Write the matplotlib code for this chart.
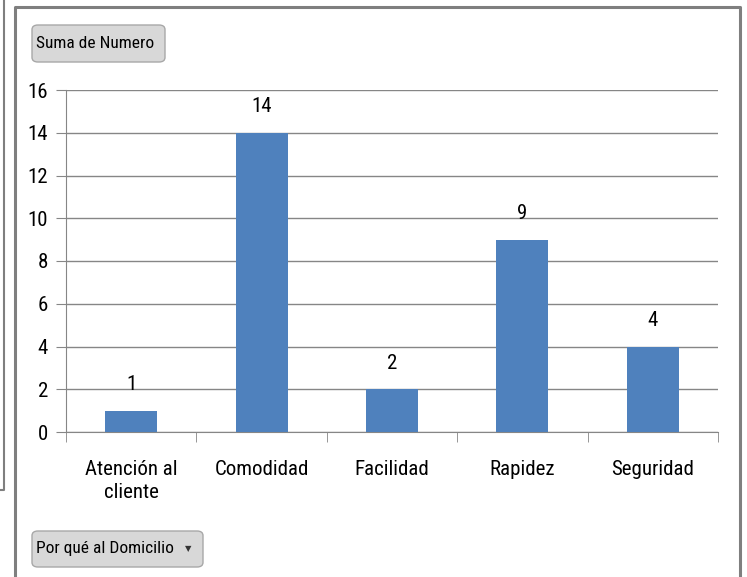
import matplotlib
matplotlib.use("Agg")
import matplotlib.pyplot as plt
from matplotlib.patches import FancyBboxPatch
from matplotlib.lines import Line2D
import matplotlib.font_manager as fm
import os

categories = ["Atención al\ncliente", "Comodidad", "Facilidad", "Rapidez", "Seguridad"]
values = [1, 14, 2, 9, 4]
yticks = [0, 2, 4, 6, 8, 10, 12, 14, 16]
series_button = "Suma de Numero"
axis_button = "Por qué al Domicilio"

# look for a narrow / condensed regular font (Calibri-like look)
cand = []
for f in fm.fontManager.ttflist:
    base = os.path.basename(f.fname).lower()
    if ("narrow" in base or "condensed" in base) and "bold" not in base and "italic" not in base \
            and "oblique" not in base and "light" not in base and "semi" not in base:
        cand.append(f)
order = ["liberationsansnarrow", "robotocondensed", "opensans_condensed", "opensanscondensed", "dejavusanscondensed"]
def rank(f):
    b = os.path.basename(f.fname).lower().replace("-", "").replace(" ", "")
    for i, o in enumerate(order):
        if o in b:
            return i
    return len(order)
cand.sort(key=rank)
if cand:
    FP = lambda size: fm.FontProperties(fname=cand[0].fname, size=size)
else:
    FP = lambda size: fm.FontProperties(family="DejaVu Sans", stretch="condensed", size=size)

W, H = 747, 577
fig = plt.figure(figsize=(W / 100, H / 100), dpi=100)
fig.patch.set_facecolor("white")

def fx(px):
    return px / W

def fy(py):
    return 1 - py / H

# outer frames
fig.add_artist(Line2D([fx(4), fx(4), fx(0)], [fy(0), fy(490), fy(490)], color="#7f7f7f", lw=1.5))
fig.add_artist(Line2D([fx(15), fx(15), fx(740), fx(740)], [fy(577), fy(7), fy(7), fy(577)],
                      color="#7f7f7f", lw=2.2))

ax = fig.add_axes([fx(66), fy(432), fx(718) - fx(66), fy(90) - fy(432)])
x = list(range(len(categories)))
bars = ax.bar(x, values, width=0.4, color="#4F81BD", zorder=3)
ax.set_xlim(-0.5, len(categories) - 0.5)
ax.set_ylim(0, 16)
ax.set_yticks(yticks)
ax.set_yticklabels([str(t) for t in yticks], fontproperties=FP(15))
ax.yaxis.grid(True, color="#868686", lw=1, zorder=0)
for s in ["top", "right"]:
    ax.spines[s].set_visible(False)
for s in ["left", "bottom"]:
    ax.spines[s].set_color("#868686")
ax.tick_params(axis="y", length=7, color="#868686", pad=6)
ax.set_xticks(x)
ax.set_xticklabels(categories, fontproperties=FP(15), linespacing=1.25)
ax.tick_params(axis="x", length=0, pad=20)
ax.set_xticks([i - 0.5 for i in range(len(categories) + 1)], minor=True)
ax.tick_params(axis="x", which="minor", length=7, color="#868686")
for b, v in zip(bars, values):
    ax.annotate(str(v), (b.get_x() + b.get_width() / 2, v), xytext=(0, 12),
                textcoords="offset points", ha="center", va="bottom", fontproperties=FP(15))

def button(x0, y0, x1, y1, text, arrow=False):
    p = FancyBboxPatch((fx(x0), fy(y1)), fx(x1) - fx(x0), fy(y0) - fy(y1),
                       boxstyle="round,pad=0,rounding_size=0.008", transform=fig.transFigure,
                       facecolor="#d8d8d8", edgecolor="#a8a8a8", lw=1)
    fig.add_artist(p)
    fig.text(fx(x0 + 4), fy((y0 + y1) / 2), text, ha="left", va="center", fontproperties=FP(12.5))
    if arrow:
        fig.text(fx(x1 - 15), fy((y0 + y1) / 2), "▼", ha="center", va="center",
                 fontsize=6, family="DejaVu Sans", color="#333333")

button(32, 25, 165, 62, series_button)
button(32, 531, 203, 567, axis_button, arrow=True)

fig.savefig("out.png", dpi=100)
